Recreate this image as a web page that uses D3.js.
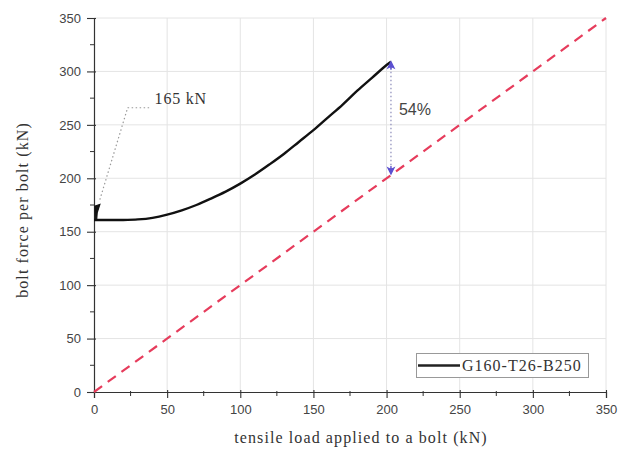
<!DOCTYPE html>
<html>
<head>
<meta charset="utf-8">
<script src="https://cdn.jsdelivr.net/npm/d3@7"></script>
<style>
  body { margin: 0; background: #fff; }
  svg { display: block; }
</style>
</head>
<body>
<svg id="chart" width="629" height="451"></svg>
<script>
// Bolt force vs. applied tensile load
const loadValues  = [0, 10, 20, 30, 40, 50, 60, 70, 80, 90, 100, 110, 120, 130, 140, 150, 160, 170, 180, 190, 200, 203];
const boltForces  = [161, 161, 161, 161.5, 163, 166, 170, 175, 181, 187.5, 195, 203.5, 213, 223, 234, 245, 257, 269, 282, 294, 306, 309];
// Reference line: bolt force equals applied load
const refLine     = [[0, 0], [350, 350]];
// Short initial preload segment near the origin
const preloadMark = [[0.8, 161], [0.6, 174], [4, 175.5], [2.2, 168], [1.8, 161]];
// Leader line for the preload annotation
const leaderPts   = [[4, 180], [23, 266], [38, 266]];
const preloadLabel = "165 kN";
// Increase marker between curve end and reference line
const gapLoad     = 203;
const gapTop      = 309;
const gapBottom   = 204;
const gapLabel    = "54%";
const xTicks      = [0, 50, 100, 150, 200, 250, 300, 350];
const yTicks      = [0, 50, 100, 150, 200, 250, 300, 350];
const minorTicks  = [25, 75, 125, 175, 225, 275, 325];
const seriesName  = "G160-T26-B250";
const xTitle      = "tensile load applied to a bolt (kN)";
const yTitle      = "bolt force per bolt (kN)";

const svg = d3.select("#chart");
const margin = { left: 94, right: 23, top: 18, bottom: 59 };
const W = 629, H = 451;

const x = d3.scaleLinear().domain([0, 350]).range([margin.left, W - margin.right]);
const y = d3.scaleLinear().domain([0, 350]).range([H - margin.bottom, margin.top]);

const serif = "'Liberation Serif', 'DejaVu Serif', serif";
const sans = "'Liberation Sans', Arial, sans-serif";
const textCol = "#333";

// grid
const grid = svg.append("g");
grid.selectAll("line.vg").data(xTicks.slice(1)).join("line")
  .attr("x1", d => x(d)).attr("x2", d => x(d))
  .attr("y1", y(0)).attr("y2", y(350))
  .attr("stroke", "#e4e4e4").attr("stroke-width", 1);
grid.selectAll("line.hg").data(yTicks.slice(1)).join("line")
  .attr("y1", d => y(d)).attr("y2", d => y(d))
  .attr("x1", x(0)).attr("x2", x(350))
  .attr("stroke", "#e4e4e4").attr("stroke-width", 1);

// axes
const xAxis = svg.append("g").attr("transform", `translate(0,${y(0)})`)
  .call(d3.axisBottom(x).tickValues(xTicks).tickSize(6).tickPadding(7));
const yAxis = svg.append("g").attr("transform", `translate(${x(0)},0)`)
  .call(d3.axisLeft(y).tickValues(yTicks).tickSize(7).tickPadding(6));
[xAxis, yAxis].forEach(a => {
  a.select(".domain").attr("stroke", "#333").attr("stroke-width", 1.2);
  a.selectAll(".tick line").attr("stroke", "#333").attr("stroke-width", 1.1);
  a.selectAll(".tick text").attr("font-family", sans).attr("font-size", 13).attr("fill", "#444");
});
// major ticks cross slightly into the plot
xAxis.selectAll(".tick line").attr("y1", -2);
yAxis.selectAll(".tick line").attr("x1", 2);
// minor ticks
svg.append("g").selectAll("line").data(minorTicks).join("line")
  .attr("x1", d => x(d)).attr("x2", d => x(d))
  .attr("y1", y(0) - 1).attr("y2", y(0) + 4)
  .attr("stroke", "#333");
svg.append("g").selectAll("line").data(minorTicks).join("line")
  .attr("y1", d => y(d)).attr("y2", d => y(d))
  .attr("x1", x(0) + 1).attr("x2", x(0) - 4)
  .attr("stroke", "#333");

// reference dashed line
svg.append("path")
  .attr("d", d3.line().x(d => x(d[0])).y(d => y(d[1]))(refLine))
  .attr("fill", "none").attr("stroke", "#e63c5c").attr("stroke-width", 2.2)
  .attr("stroke-dasharray", "10,7");

// main curve
const curveData = loadValues.map((v, i) => [v, boltForces[i]]);
svg.append("path")
  .attr("d", d3.line().x(d => x(d[0])).y(d => y(d[1])).curve(d3.curveCatmullRom)(curveData))
  .attr("fill", "none").attr("stroke", "#111").attr("stroke-width", 2.4);

// preload segment
svg.append("path")
  .attr("d", d3.line().x(d => x(d[0])).y(d => y(d[1]))(preloadMark) + "Z")
  .attr("fill", "#111").attr("stroke", "#111").attr("stroke-width", 1.2);

// leader line + label
svg.append("path")
  .attr("d", d3.line().x(d => x(d[0])).y(d => y(d[1]))(leaderPts))
  .attr("fill", "none").attr("stroke", "#999").attr("stroke-width", 1.2)
  .attr("stroke-dasharray", "1.5,2.5");
svg.append("text")
  .attr("x", x(leaderPts[2][0]) + 5).attr("y", y(leaderPts[2][1]) - 4)
  .attr("font-family", serif).attr("font-size", 16).attr("letter-spacing", 0.8)
  .attr("fill", textCol)
  .text(preloadLabel);

// increase marker
const gx = x(gapLoad);
svg.append("line")
  .attr("x1", gx).attr("x2", gx).attr("y1", y(gapTop) + 2).attr("y2", y(gapBottom) - 2)
  .attr("stroke", "#8a8ab8").attr("stroke-width", 1.2).attr("stroke-dasharray", "1.5,2.5");
const arrowCol = "#5b4fd0";
svg.append("path")
  .attr("d", `M${gx},${y(gapTop)} l-3,6 l3,-1.5 l3,1.5 Z M${gx},${y(gapTop)} v8`)
  .attr("fill", arrowCol).attr("stroke", arrowCol).attr("stroke-width", 1.3);
svg.append("path")
  .attr("d", `M${gx},${y(gapBottom)} l-3,-6 l3,1.5 l3,-1.5 Z M${gx},${y(gapBottom)} v-8`)
  .attr("fill", arrowCol).attr("stroke", arrowCol).attr("stroke-width", 1.3);
svg.append("text")
  .attr("x", gx + 8).attr("y", y((gapTop + gapBottom) / 2) - 3)
  .attr("font-family", sans).attr("font-size", 16).attr("fill", "#444")
  .text(gapLabel);

// legend
const lg = svg.append("g");
lg.append("rect").attr("x", 416.5).attr("y", 353.5).attr("width", 172).attr("height", 24)
  .attr("fill", "#fff").attr("stroke", "#999").attr("stroke-width", 1);
lg.append("line").attr("x1", 418).attr("x2", 460).attr("y1", 365.5).attr("y2", 365.5)
  .attr("stroke", "#222").attr("stroke-width", 2.4);
lg.append("text").attr("x", 462).attr("y", 371)
  .attr("font-family", serif).attr("font-size", 16).attr("letter-spacing", 1)
  .attr("fill", textCol)
  .text(seriesName);

// axis titles
svg.append("text")
  .attr("x", 361).attr("y", 443).attr("text-anchor", "middle")
  .attr("font-family", serif).attr("font-size", 16).attr("letter-spacing", 1.1)
  .attr("fill", textCol)
  .text(xTitle);
svg.append("text")
  .attr("transform", `translate(28,210) rotate(-90)`)
  .attr("text-anchor", "middle")
  .attr("font-family", serif).attr("font-size", 16).attr("letter-spacing", 1.1)
  .attr("fill", textCol)
  .text(yTitle);
</script>
</body>
</html>
